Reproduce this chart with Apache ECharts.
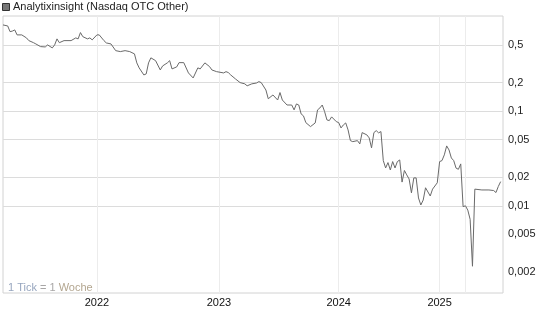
<!DOCTYPE html>
<html>
<head>
<meta charset="utf-8">
<script src="https://cdn.jsdelivr.net/npm/echarts@6/dist/echarts.min.js"></script>
<style>
html,body{margin:0;padding:0;background:#fff;}
#chart{width:545px;height:327px;}
</style>
</head>
<body>
<div id="chart"></div>
<script>
// Week index (1 Tick = 1 Woche) and closing price
var weeks = [0,2,3,4,5,6,8,10,11,13,14,16,18,19,21,22,23,24,26,29,31,32,33,34,36,37,38,40,41,43,44,46,48,50,52,54,56,57,58,60,61,62,63,65,67,68,70,71,72,74,75,77,79,81,83,84,86,88,89,91,94,95,96,97,99,101,103,104,106,108,109,110,112,113,115,117,118,119,121,123,124,125,126,127,128,129,131,133,134,135,136,137,138,139,140,142,143,144,145,146,147,148,149,151,152,153,155,156,157,158,159,160,161,162,163,164,165,166,167,168,169,170,171,172,173,174,175,176,177,178,179,180,182,183,185,186,187,188,189,190,191,192,193,194,195,196,197,198,199,200,201,204,207,209,210,211,212];
var prices = [0.813,0.793,0.69,0.70,0.72,0.638,0.638,0.593,0.555,0.528,0.512,0.48,0.476,0.50,0.465,0.50,0.579,0.528,0.555,0.555,0.593,0.579,0.675,0.611,0.579,0.593,0.565,0.638,0.638,0.555,0.525,0.512,0.435,0.425,0.435,0.425,0.402,0.323,0.286,0.241,0.247,0.323,0.365,0.341,0.272,0.30,0.323,0.341,0.279,0.293,0.325,0.325,0.253,0.224,0.286,0.279,0.323,0.295,0.272,0.261,0.253,0.261,0.255,0.241,0.219,0.20,0.194,0.185,0.194,0.198,0.205,0.20,0.167,0.135,0.148,0.131,0.157,0.131,0.116,0.116,0.103,0.119,0.116,0.0934,0.089,0.0756,0.0686,0.075,0.103,0.108,0.116,0.0988,0.0807,0.0794,0.0869,0.0774,0.0756,0.0664,0.0715,0.075,0.0633,0.0488,0.0476,0.0488,0.045,0.0593,0.0561,0.0521,0.0409,0.0593,0.0622,0.0589,0.0608,0.030,0.0251,0.0286,0.0239,0.0293,0.0251,0.0293,0.0305,0.0178,0.0236,0.0212,0.0192,0.0137,0.0197,0.0197,0.0121,0.0102,0.0115,0.0155,0.0127,0.015,0.0175,0.0293,0.030,0.0345,0.0429,0.0389,0.032,0.030,0.025,0.0243,0.0277,0.0098,0.01,0.009,0.0072,0.0023,0.015,0.0147,0.0147,0.0145,0.0138,0.016,0.018];

var yearTicks = [40, 92, 143, 186];
var yearLabels = ['2022', '2023', '2024', '2025'];
var extraGridWeeks = [197];
var yTicks = [0.5, 0.2, 0.1, 0.05, 0.02, 0.01, 0.005, 0.002];
var yTickLabels = ['0,5', '0,2', '0,1', '0,05', '0,02', '0,01', '0,005', '0,002'];
var title = 'Analytixinsight (Nasdaq OTC Other)';
var footnote = '1 Tick = 1 Woche';

var seriesData = weeks.map(function (w, i) { return [w, prices[i]]; });

var gridLines = [];
yTicks.forEach(function (v) {
  gridLines.push({ yAxis: v, lineStyle: { color: '#dcdcdc', width: 1, type: 'solid' } });
});
yearTicks.concat(extraGridWeeks).forEach(function (w) {
  gridLines.push({ xAxis: w, lineStyle: { color: '#ececec', width: 1, type: 'solid' } });
});

var chart = echarts.init(document.getElementById('chart'), null, { renderer: 'canvas' });
chart.setOption({
  animation: false,
  backgroundColor: '#ffffff',
  textStyle: { fontFamily: 'Liberation Sans, Arial, sans-serif' },
  grid: {
    left: 3, right: 42, top: 16, bottom: 34,
    show: true, borderColor: '#d2d2d2', borderWidth: 1, backgroundColor: 'transparent'
  },
  graphic: [
    { type: 'rect', left: 2, top: 3, shape: { width: 7, height: 7 },
      style: { fill: '#777777', stroke: '#333333', lineWidth: 1 } },
    { type: 'text', left: 13, top: 1,
      style: { text: title, fill: '#222222', font: '11px "Liberation Sans", Arial, sans-serif' } },
    { type: 'text', left: 8, top: 282,
      style: {
        text: '{a|1 Tick} {b|= 1} {c|Woche}',
        font: '11px "Liberation Sans", Arial, sans-serif',
        rich: {
          a: { fill: '#97a6bf', font: '11px "Liberation Sans", Arial, sans-serif' },
          b: { fill: '#a8a6a6', font: '11px "Liberation Sans", Arial, sans-serif' },
          c: { fill: '#b3a690', font: '11px "Liberation Sans", Arial, sans-serif' }
        }
      } }
  ],
  xAxis: {
    type: 'value', min: 0, max: 213,
    axisLine: { show: false }, axisTick: { show: false }, splitLine: { show: false },
    axisLabel: {
      customValues: yearTicks,
      margin: 4,
      color: '#111111', fontSize: 11,
      formatter: function (v) { var i = yearTicks.indexOf(v); return i >= 0 ? yearLabels[i] : ''; }
    }
  },
  yAxis: {
    type: 'log', logBase: 10, min: 0.0012, max: 1.01, position: 'right',
    axisLine: { show: false }, axisTick: { show: false }, splitLine: { show: false },
    axisLabel: {
      customValues: yTicks,
      margin: 5,
      color: '#222222', fontSize: 11,
      formatter: function (v) {
        for (var i = 0; i < yTicks.length; i++) {
          if (Math.abs(yTicks[i] - v) / yTicks[i] < 1e-6) return yTickLabels[i];
        }
        return '';
      }
    }
  },
  series: [
    {
      type: 'line', data: [], silent: true, z: 1,
      markLine: { silent: true, symbol: ['none', 'none'], label: { show: false }, z: 1, data: gridLines, animation: false }
    },
    {
      type: 'line', data: seriesData, z: 5, showSymbol: false, symbol: 'none',
      lineStyle: { color: '#6a6a6a', width: 1 }
    }
  ]
});
</script>
</body>
</html>
